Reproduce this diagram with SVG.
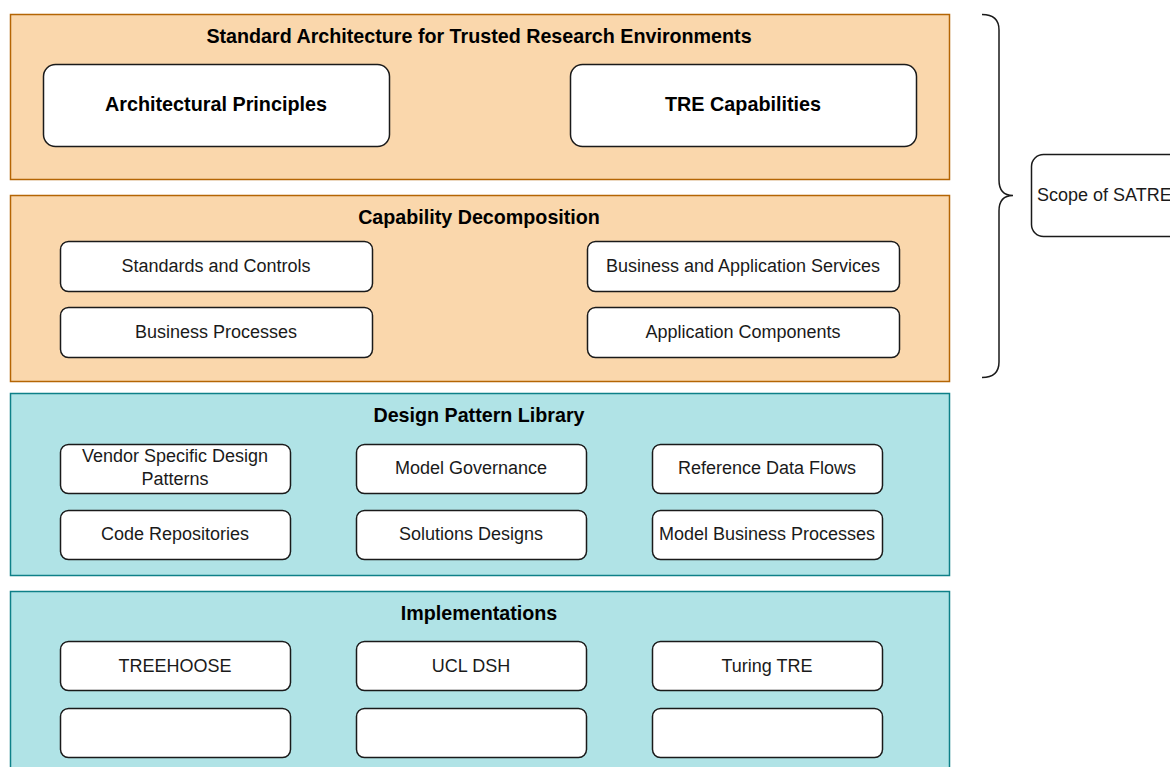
<svg xmlns="http://www.w3.org/2000/svg" width="1170" height="767" viewBox="0 0 1170 767">
  <style>
    .orange { fill: #fad7ac; stroke: #b46504; stroke-width: 1.5; }
    .teal { fill: #b0e3e6; stroke: #0e8088; stroke-width: 1.5; }
    .box { fill: #ffffff; stroke: #1a1a1a; stroke-width: 1.5; }
    .title { font-family: "Liberation Sans", Arial, sans-serif; font-size: 19.7px; font-weight: bold; fill: #000; text-anchor: middle; }
    .big { font-family: "Liberation Sans", Arial, sans-serif; font-size: 19.8px; font-weight: bold; fill: #000; text-anchor: middle; }
    .lbl { font-family: "Liberation Sans", Arial, sans-serif; font-size: 18px; fill: #1a1a1a; text-anchor: middle; }
  </style>
  <rect width="1170" height="767" fill="#ffffff"/>

  <!-- Standard Architecture layer -->
  <g id="standard-architecture">
    <rect class="orange" x="10.5" y="14.5" width="939" height="165"/>
    <text class="title" x="479" y="43">Standard Architecture for Trusted Research Environments</text>
  </g>
  <g id="architectural-principles">
    <rect class="box" x="43.5" y="64.5" width="346" height="82" rx="12"/>
    <text class="big" x="216" y="111">Architectural Principles</text>
  </g>
  <g id="tre-capabilities">
    <rect class="box" x="570.5" y="64.5" width="346" height="82" rx="12"/>
    <text class="big" x="743" y="111">TRE Capabilities</text>
  </g>

  <!-- Capability Decomposition layer -->
  <g id="capability-decomposition">
    <rect class="orange" x="10.5" y="195.5" width="939" height="186"/>
    <text class="title" x="479" y="224">Capability Decomposition</text>
  </g>
  <g id="standards-controls">
    <rect class="box" x="60.5" y="241.5" width="312" height="50" rx="8"/>
    <text class="lbl" x="216" y="272">Standards and Controls</text>
  </g>
  <g id="business-processes">
    <rect class="box" x="60.5" y="307.5" width="312" height="50" rx="8"/>
    <text class="lbl" x="216" y="338">Business Processes</text>
  </g>
  <g id="business-application-services">
    <rect class="box" x="587.5" y="241.5" width="312" height="50" rx="8"/>
    <text class="lbl" x="743" y="272">Business and Application Services</text>
  </g>
  <g id="application-components">
    <rect class="box" x="587.5" y="307.5" width="312" height="50" rx="8"/>
    <text class="lbl" x="743" y="338">Application Components</text>
  </g>

  <!-- Design Pattern Library layer -->
  <g id="design-pattern-library">
    <rect class="teal" x="10.5" y="393.5" width="939" height="182"/>
    <text class="title" x="479" y="422">Design Pattern Library</text>
  </g>
  <g id="vendor-patterns">
    <rect class="box" x="60.5" y="444.5" width="230" height="49" rx="8"/>
    <text class="lbl" x="175" y="462">Vendor Specific Design</text>
    <text class="lbl" x="175" y="485">Patterns</text>
  </g>
  <g id="model-governance">
    <rect class="box" x="356.5" y="444.5" width="230" height="49" rx="8"/>
    <text class="lbl" x="471" y="474">Model Governance</text>
  </g>
  <g id="reference-data-flows">
    <rect class="box" x="652.5" y="444.5" width="230" height="49" rx="8"/>
    <text class="lbl" x="767" y="474">Reference Data Flows</text>
  </g>
  <g id="code-repositories">
    <rect class="box" x="60.5" y="510.5" width="230" height="49" rx="8"/>
    <text class="lbl" x="175" y="540">Code Repositories</text>
  </g>
  <g id="solutions-designs">
    <rect class="box" x="356.5" y="510.5" width="230" height="49" rx="8"/>
    <text class="lbl" x="471" y="540">Solutions Designs</text>
  </g>
  <g id="model-business-processes">
    <rect class="box" x="652.5" y="510.5" width="230" height="49" rx="8"/>
    <text class="lbl" x="767" y="540">Model Business Processes</text>
  </g>

  <!-- Implementations layer -->
  <g id="implementations">
    <rect class="teal" x="10.5" y="591.5" width="939" height="190"/>
    <text class="title" x="479" y="620">Implementations</text>
  </g>
  <g id="treehoose">
    <rect class="box" x="60.5" y="641.5" width="230" height="49" rx="8"/>
    <text class="lbl" x="175" y="672">TREEHOOSE</text>
  </g>
  <g id="ucl-dsh">
    <rect class="box" x="356.5" y="641.5" width="230" height="49" rx="8"/>
    <text class="lbl" x="471" y="672">UCL DSH</text>
  </g>
  <g id="turing-tre">
    <rect class="box" x="652.5" y="641.5" width="230" height="49" rx="8"/>
    <text class="lbl" x="767" y="672">Turing TRE</text>
  </g>
  <g id="impl-empty-1">
    <rect class="box" x="60.5" y="708.5" width="230" height="49" rx="8"/>
  </g>
  <g id="impl-empty-2">
    <rect class="box" x="356.5" y="708.5" width="230" height="49" rx="8"/>
  </g>
  <g id="impl-empty-3">
    <rect class="box" x="652.5" y="708.5" width="230" height="49" rx="8"/>
  </g>

  <!-- Scope bracket and label -->
  <g id="connectors">
    <path d="M982 14.5 Q999 14.5 999 30 L999 180 Q999 195.5 1013 195.5 Q999 195.5 999 211 L999 362 Q999 377.5 982 377.5" fill="none" stroke="#1a1a1a" stroke-width="1.5"/>
  </g>
  <g id="scope-of-satre">
    <rect class="box" x="1031.5" y="154.5" width="160" height="82" rx="12"/>
    <text class="lbl" x="1037" y="201" style="text-anchor:start">Scope of SATRE</text>
  </g>
</svg>
